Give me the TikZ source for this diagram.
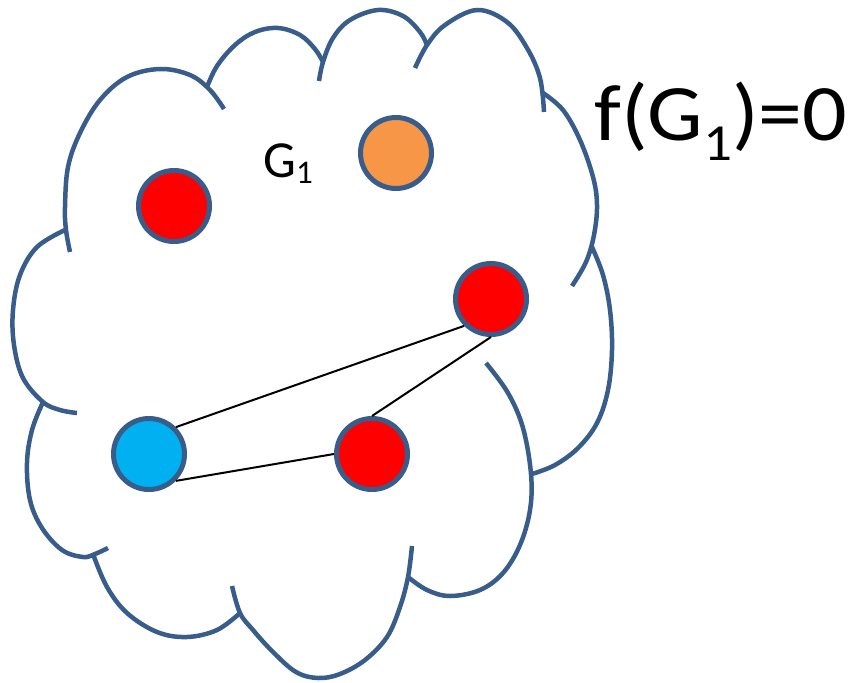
\documentclass[tikz,border=0pt]{standalone}
\usepackage{fontspec}
\setmainfont{Carlito}
\definecolor{edgeblue}{HTML}{385D8A}
\definecolor{nodered}{HTML}{FF0000}
\definecolor{nodeorange}{HTML}{F79646}
\definecolor{nodeblue}{HTML}{00B0F0}
\tikzset{
  cloudline/.style={draw=edgeblue, line width=4.5pt},
  vertex/.style={circle, draw=edgeblue, line width=5pt, minimum size=71pt, inner sep=0pt},
  link/.style={draw=black, line width=2pt}
}
\begin{document}
\begin{tikzpicture}[x=1pt, y=-1pt]
\useasboundingbox (0,0) rectangle (858,682);
% cloud lobes
\draw[cloudline] plot[smooth, tension=0.6] coordinates {(70,252) (66,230) (65,207) (68,167) (80,133) (100,100) (127,77) (160,69) (190,75) (210,90) (224,109)};
\draw[cloudline] plot[smooth, tension=0.6] coordinates {(207,87) (217,66) (235,45) (255,32) (278,28) (300,35) (315,49) (323,62)};
\draw[cloudline] plot[smooth, tension=0.6] coordinates {(319,81) (323,62) (333,38) (350,20) (378,10) (403,16) (420,32) (427,45)};
\draw[cloudline] plot[smooth, tension=0.6] coordinates {(415,68) (427,45) (445,25) (477,10) (507,22) (527,48) (540,78) (544,112)};
\draw[cloudline] plot[smooth, tension=0.6] coordinates {(543,93) (563,110) (580,140) (593,177) (597,205) (594,235) (586,262) (572,286)};
\draw[cloudline] plot[smooth, tension=0.6] coordinates {(592,247) (603,275) (610,310) (612,350) (608,390) (597,423) (578,448) (555,465) (532,474)};
\draw[cloudline] plot[smooth, tension=0.6] coordinates {(486,363) (508,393) (523,428) (531,474) (530,510) (520,545) (503,573) (480,590) (450,596) (427,590) (408,577)};
\draw[cloudline] plot[smooth, tension=0.6] coordinates {(412,546) (408,577) (400,607) (387,637) (365,660) (340,674) (318,678) (296,672) (273,652) (253,630) (240,613) (232,586)};
\draw[cloudline] plot[smooth, tension=0.6] coordinates {(240,613) (217,630) (187,637) (157,632) (127,613) (107,587) (93,554)};
\draw[cloudline] plot[smooth, tension=0.6] coordinates {(43,402) (32,430) (27,463) (30,500) (42,528) (62,550) (83,557) (95,554) (108,548)};
\draw[cloudline] plot[smooth, tension=0.6] coordinates {(65,230) (37,247) (20,275) (13,310) (14,345) (23,378) (43,402) (60,410) (77,413)};
% vertices
\node[vertex, fill=nodered] (r1) at (174,206) {};
\node[vertex, fill=nodeorange] (o1) at (396,153) {};
\node[vertex, fill=nodered] (r2) at (491,299) {};
\node[vertex, fill=nodeblue] (b1) at (149,454) {};
\node[vertex, fill=nodered] (r3) at (372,454) {};
% links
\draw[link] (b1.north east) -- (r2.south west);
\draw[link] (r2.south) -- (r3.north);
\draw[link] (b1.south east) -- (r3.west);
% labels
\node[anchor=base west, inner sep=0pt] (glabel) at (263,177) {\fontsize{52}{52}\selectfont G\raisebox{-6pt}{\fontsize{33}{33}\selectfont 1}};
\node[anchor=base west, inner sep=0pt] (flabel) at (594,140) {\scalebox{1.1}[1]{\fontsize{80}{80}\selectfont f(G\raisebox{-20pt}{\fontsize{52}{52}\selectfont 1})=0}};
\end{tikzpicture}
\end{document}
